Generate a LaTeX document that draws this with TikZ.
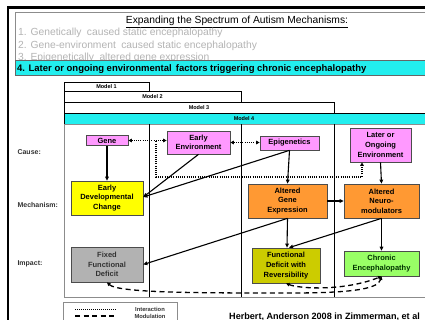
\documentclass[tikz,border=0pt]{standalone}
\usepackage{fontspec}
\setmainfont{Liberation Sans}
\usetikzlibrary{arrows.meta,calc}
\definecolor{pinkbox}{HTML}{FF99FF}
\definecolor{yellowbox}{HTML}{FFFF00}
\definecolor{graybox}{HTML}{B2B2B2}
\definecolor{orangebox}{HTML}{FF9933}
\definecolor{olivebox}{HTML}{CCCC00}
\definecolor{greenbox}{HTML}{99FF66}
\definecolor{cyanbar}{HTML}{22EEEE}
\definecolor{lightgraytext}{HTML}{B4B4B4}
\definecolor{labelgray}{HTML}{333333}
\begin{document}
\begin{tikzpicture}[x=1pt,y=-1pt,
  box/.style={draw=black!70, line width=0.7pt, font=\bfseries\fontsize{7.5}{9.6}\selectfont,
    align=center, inner sep=0pt},
  rowlabel/.style={font=\bfseries\fontsize{7}{8}\selectfont, text=labelgray, anchor=west},
  modellabel/.style={font=\bfseries\fontsize{5.5}{6}\selectfont},
  arr/.style={line width=1.1pt, -{Triangle[length=4pt,width=3.6pt]}},
  dotline/.style={line width=1.2pt, dash pattern=on 0.9pt off 1.3pt},
  dashline/.style={line width=1.3pt, dash pattern=on 5pt off 3.5pt},
  dtip/.style={{Triangle[length=3.5pt,width=3.5pt]}-{Triangle[length=3.5pt,width=3.5pt]}},
  graytext/.style={font=\fontsize{10.3}{12}\selectfont, text=lightgraytext, anchor=base west, inner sep=0pt}
]
\useasboundingbox (0,0) rectangle (425,320);
\fill[white] (0,0) rectangle (425,320);

% outer black frame
\draw[line width=2.5pt] (8,340) -- (8,7.5) -- (440,7.5);

% top title box
\draw[black!45, line width=0.6pt, fill=white] (15,12) rectangle (440,75);
\node[font=\fontsize{10.3}{12}\selectfont, anchor=base, inner sep=0pt] (title) at (237,23.3)
  {\underline{Expanding the Spectrum of Autism Mechanisms:}};
\node[graytext] (l1) at (18,36) {1. Genetically\hspace{2.5pt} caused static encephalopathy};
\node[graytext] (l2) at (18,48.5) {2. Gene-environment\hspace{2.5pt} caused static encephalopathy};
\node[graytext] (l3) at (18,61) {3. Epigenetically\hspace{2.5pt} altered gene expression};
\draw[black!60, line width=0.5pt, fill=cyanbar] (15,60) rectangle (440,75);
\node[font=\bfseries\fontsize{9.5}{10}\selectfont, anchor=base west, inner sep=0pt] (l4) at (17,72)
  {4. Later or ongoing environmental\, factors triggering chronic encephalopathy};

% model bars
\draw[black, line width=0.5pt] (64,82) rectangle (149,91);
\node[modellabel] (m1) at (106.5,86.8) {Model 1};
\draw[black, line width=0.5pt] (64,91) rectangle (241,102);
\node[modellabel] (m2) at (152.5,96.8) {Model 2};
\draw[black, line width=0.5pt] (64,102) rectangle (334,113);
\node[modellabel] (m3) at (199,107.8) {Model 3};
\draw[black, line width=0.5pt, fill=cyanbar] (64,113) rectangle (440,124);
\node[modellabel] (m4) at (244,118.8) {Model 4};

% main panel
\draw[black!45, line width=0.9pt] (64,124) rectangle (440,297);
\draw[black, line width=0.6pt] (149,124) -- (149,297);
\draw[black, line width=0.6pt] (241,124) -- (241,297);
\draw[black, line width=0.6pt] (334,124) -- (334,297);

% row labels
\node[rowlabel] (cause) at (14,152) {Cause:};
\node[rowlabel] (mech) at (14,205) {Mechanism:};
\node[rowlabel] (impact) at (14,264) {Impact:};

% boxes
\node[box, fill=pinkbox, minimum width=42pt, minimum height=10pt] (gene) at (107,140.5) {Gene};
\node[box, fill=pinkbox, minimum width=63pt, minimum height=23pt] (ee) at (198.5,142.5) {Early\\Environment};
\node[box, fill=pinkbox, minimum width=59pt, minimum height=14pt] (epi) at (289.5,143) {Epigenetics};
\node[box, fill=pinkbox, minimum width=61pt, minimum height=34pt, font=\bfseries\fontsize{7.5}{10.2}\selectfont] (loe) at (380.5,145) {Later or\\Ongoing\\Environment};
\node[box, fill=yellowbox, minimum width=72pt, minimum height=34pt] (edc) at (107,198) {Early\\Developmental\\Change};
\node[box, fill=graybox, text=labelgray, minimum width=72pt, minimum height=35pt] (ffd) at (107,264.5) {Fixed\\Functional\\Deficit};
\node[box, fill=orangebox, minimum width=79pt, minimum height=34pt] (age) at (287.5,201) {Altered\\Gene\\Expression};
\node[box, fill=orangebox, minimum width=75pt, minimum height=34pt] (anm) at (381.5,201) {Altered\\Neuro-\\modulators};
\node[box, fill=olivebox, minimum width=68pt, minimum height=35pt] (fdr) at (286,265.5) {Functional\\Deficit with\\Reversibility};
\node[box, fill=greenbox, text=black!80!green, minimum width=75pt, minimum height=25pt] (ce) at (381.5,263.5) {Chronic\\Encephalopathy};

% solid arrows
\draw[arr] (gene.south) -- (edc.north);
\draw[arr] (ee.south) -- ($(edc.east)+(0,-1)$);
\draw[arr] (epi.south) -- ($(edc.east)+(0,-1)$);
\draw[arr] (epi.south) -- (age.north);
\draw[arr] (age.south) -- (ffd.east);
\draw[arr] (age.south) -- ($(fdr.north)+(1,0)$);
\draw[arr] (anm.south) -- ($(fdr.north)+(3,0)$);
\draw[arr] (age.east) -- (anm.west);
\draw[arr] (loe.south) -- (anm.north);
\draw[arr] (anm.south) -- (ce.north);

% dotted interactions
\draw[dotline, dtip] (gene.east) -- (gene.east -| ee.west);
\draw[dotline, dtip] (ee.east) -- (ee.east -| epi.west);
\coordinate (j) at (156,141.5);
\coordinate (k) at (362,177);
\draw[dotline, -{Triangle[length=3.5pt,width=3.5pt]}] (j) -- (j |- k) -- (k) -- (k |- loe.south);

% dashed modulation
\draw[dashline, dtip] (ffd.south) .. controls (118,293) and (200,293) .. (290,293)
  .. controls (345,293) and (378,290) .. (ce.south);
\draw[dashline, dtip] (fdr.south) .. controls (300,289) and (345,291) .. (ce.south);

% legend
\draw[black!45, line width=0.7pt] (63,302) rectangle (177,330);
\coordinate (la) at (75,309);
\coordinate (lb) at (116,309);
\coordinate (lc) at (75,316);
\coordinate (ld) at (116,316);
\draw[line width=1pt, dash pattern=on 0.8pt off 1.2pt] (la) -- (lb);
\draw[line width=1.4pt, dash pattern=on 5pt off 3.5pt] (lc) -- (ld);
\node[font=\bfseries\fontsize{5.8}{6}\selectfont, text=labelgray] (li) at (150,309) {Interaction};
\node[font=\bfseries\fontsize{5.8}{6}\selectfont, text=labelgray] (lm) at (150,316) {Modulation};

% citation
\node[font=\bfseries\fontsize{9.1}{9.5}\selectfont, anchor=base west, inner sep=0pt] (cite) at (229,319) {Herbert, Anderson 2008 in Zimmerman, et al};
\end{tikzpicture}
\end{document}
